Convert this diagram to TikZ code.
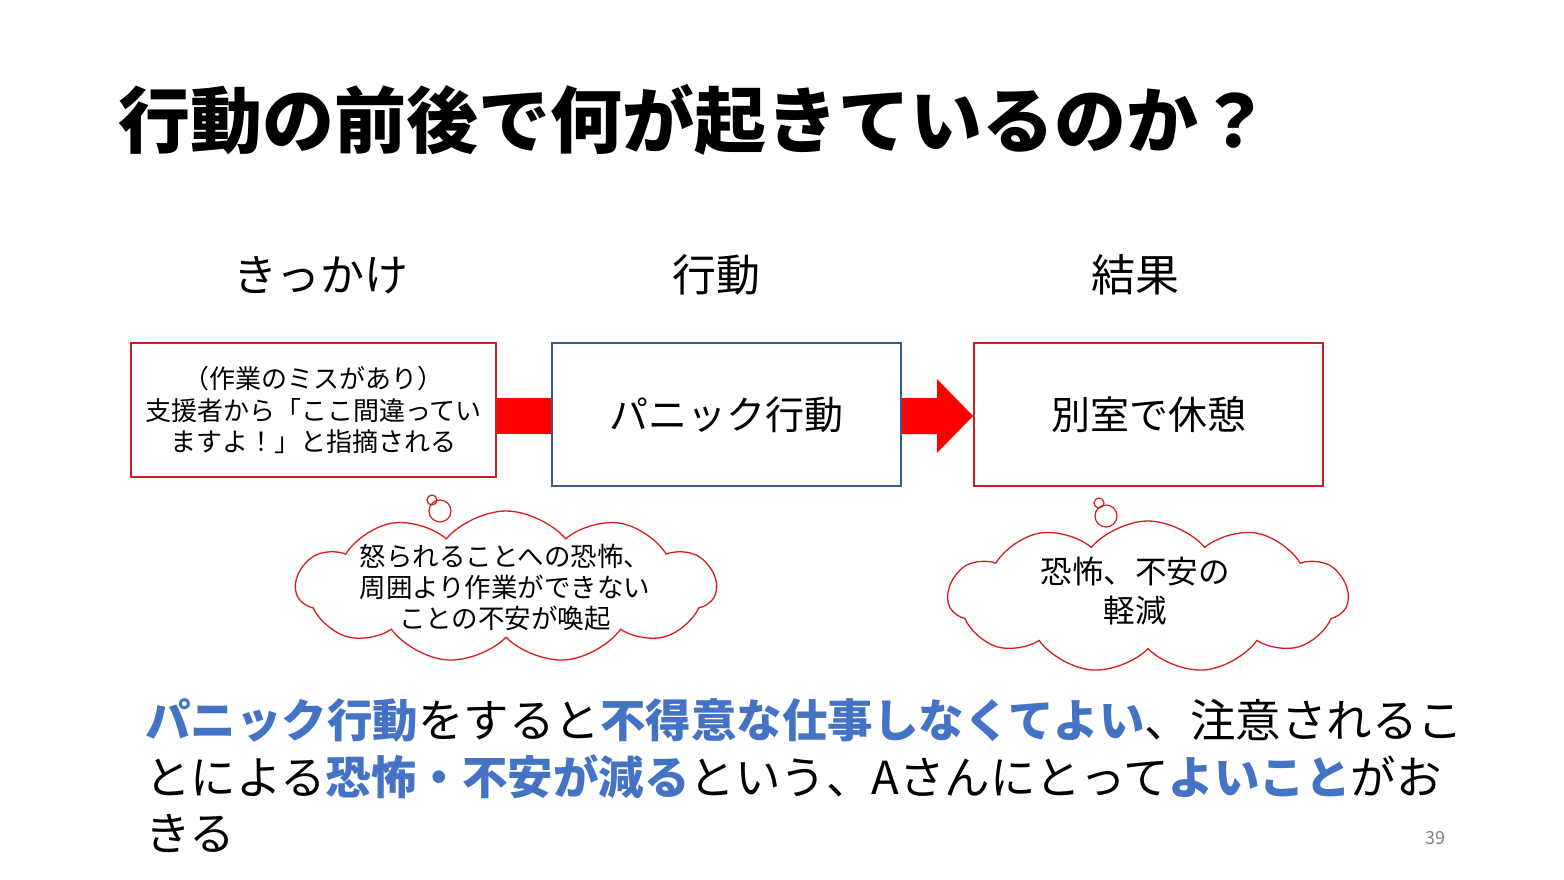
\documentclass[tikz,border=0pt]{standalone}
\usepackage{fontspec}
\setmainfont{Noto Sans CJK JP}
\usetikzlibrary{shapes.symbols,calc}
\definecolor{boxred}{RGB}{200,30,35}
\definecolor{boxblue}{RGB}{56,93,138}
\definecolor{arrred}{RGB}{255,0,0}
\definecolor{cloudred}{RGB}{215,30,30}
\definecolor{hiblue}{RGB}{68,114,196}
\newcommand{\hb}[1]{\textcolor{hiblue}{\bfseries #1}}
\begin{document}
\begin{tikzpicture}[x=1pt,y=-1pt,
  hdr/.style={font=\fontsize{44}{50}\selectfont},
  redbox/.style={draw=boxred, line width=2pt, fill=white, inner sep=0pt},
  bluebox/.style={draw=boxblue, line width=2pt, fill=white, inner sep=0pt},
  thought/.style={cloud, cloud puffs=11, cloud puff arc=100, cloud ignores aspect, draw=cloudred, line width=1.3pt, inner sep=0pt},
  bubble/.style={draw=cloudred, line width=1.2pt},
  body/.style={anchor=west, inner sep=0pt, font=\fontsize{45.5}{57}\selectfont}
]
\useasboundingbox (0,0) rectangle (1564,879);
\fill[white] (0,0) rectangle (1564,879);

% title
\node[anchor=west, inner sep=0pt, font=\fontsize{72}{80}\selectfont\bfseries] (title) at (118,120) {行動の前後で何が起きているのか？};

% headers
\node[hdr] (h1) at (321,275) {きっかけ};
\node[hdr] (h2) at (716,275) {行動};
\node[hdr] (h3) at (1135,275) {結果};

% connectors (drawn first, boxes on top)
\coordinate (l1) at (496,416);
\coordinate (l2) at (556,416);
\fill[arrred] ($(l1)+(0,-18)$) rectangle ($(l2)+(0,18)$);

% boxes
\node[redbox, minimum width=365pt, minimum height=134pt, align=center,
      font=\fontsize{26}{31.5}\selectfont] (b1) at (313.5,410)
  {（作業のミスがあり）\\支援者から「ここ間違ってい\\ますよ！」と指摘される};
\node[bluebox, minimum width=349pt, minimum height=143pt,
      font=\fontsize{39}{45}\selectfont] (b2) at (726.5,414.5) {パニック行動};
\node[redbox, minimum width=349pt, minimum height=143pt,
      font=\fontsize{39}{45}\selectfont] (b3) at (1148.5,414.5) {別室で休憩};

% arrow b2 -> b3
\fill[arrred] ($(b2.east)+(0,-16.5)$) -- ($(b3.west)+(-36,-16.5)$) -- ($(b3.west)+(-36,-35.5)$)
  -- ($(b3.west)+(0,1.5)$) -- ($(b3.west)+(-36,38.5)$) -- ($(b3.west)+(-36,19.5)$)
  -- ($(b2.east)+(0,19.5)$) -- cycle;

% clouds
\node[thought, minimum width=420pt, minimum height=152pt] (c1) at (506,587) {};
\node[align=center, font=\fontsize{26.5}{31}\selectfont] (t1) at (505,587)
  {怒られることへの恐怖、\\周囲より作業ができない\\ことの不安が喚起};
\draw[bubble] (432,500) circle (5);
\draw[bubble] (440,511) circle (11);

\node[thought, minimum width=400pt, minimum height=152pt] (c2) at (1148,597) {};
\node[align=center, font=\fontsize{31.5}{39}\selectfont] (t2) at (1135,591)
  {恐怖、不安の\\軽減};
\draw[bubble] (1099,503) circle (5);
\draw[bubble] (1106,516) circle (11);

% body text
\node[body] (p1) at (145,720) {\hb{パニック行動}をすると\hb{不得意な仕事しなくてよい}、注意されるこ};
\node[body] (p2) at (145,777) {とによる\hb{恐怖・不安が減る}という、Aさんにとって\hb{よいこと}がお};
\node[body] (p3) at (145,833) {きる};

\node[text=gray, font=\fontsize{18}{20}\selectfont] (pg) at (1435,838) {39};
\end{tikzpicture}
\end{document}
